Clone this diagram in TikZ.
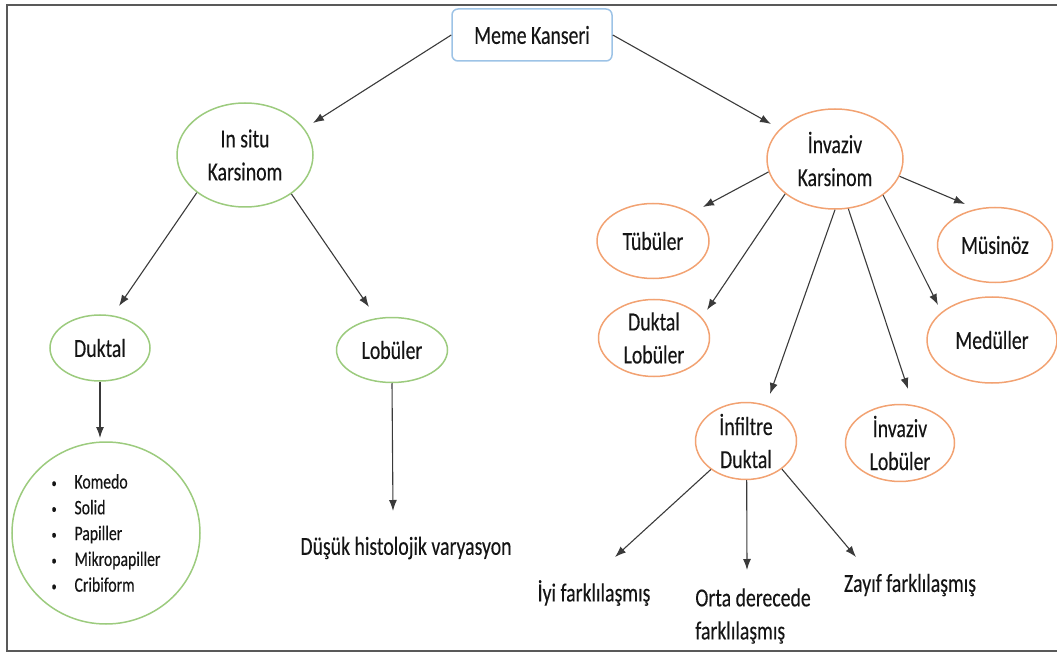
\documentclass[tikz,border=0pt]{standalone}
\usepackage{fontspec}
\setmainfont{Carlito}[FakeStretch=0.76,FakeBold=0.25]
\usetikzlibrary{shapes.geometric,arrows.meta}
\definecolor{gbord}{HTML}{9CCB7E}
\definecolor{obord}{HTML}{F2A272}
\definecolor{bbord}{HTML}{9DC3E6}
\definecolor{arrc}{HTML}{3A3A3A}
\definecolor{txt}{HTML}{151515}
\newcommand{\bl}{\makebox[23pt][l]{\raisebox{1pt}{\scalebox{0.65}{•}}}}
\begin{document}
\begin{tikzpicture}[x=1pt,y=-1pt,
  every node/.style={text=txt,font=\fontsize{26}{33}\selectfont},
  gell/.style={ellipse,draw=gbord,line width=1.5pt,inner sep=0pt,align=center},
  oell/.style={ellipse,draw=obord,line width=1.5pt,inner sep=0pt,align=center},
  plain/.style={inner sep=0pt,align=center},
  arr/.style={draw=arrc,line width=1.1pt,-{Latex[length=11pt,width=8pt]}}]
\useasboundingbox (0,0) rectangle (1057,652);
% frame
\draw[color=black!65,line width=1.5pt] (1057,5) -- (7,5) -- (7,651) -- (1057,651);
% nodes
\node[draw=bbord,line width=1.5pt,rounded corners=6pt,minimum width=160pt,minimum height=52pt,inner sep=0pt] (mk) at (532,35) {Meme Kanseri};
\node[gell,minimum width=136pt,minimum height=104pt] (isk) at (245,155) {In situ\\Karsinom};
\node[oell,minimum width=136pt,minimum height=100pt] (ivk) at (835,159) {İnvaziv\\Karsinom};
\node[gell,minimum width=100pt,minimum height=66pt] (dk) at (100,348) {Duktal};
\node[gell,minimum width=111pt,minimum height=65pt] (lb) at (392,350) {Lobüler};
\node[gell,minimum width=188pt,minimum height=182pt,align=left,font=\fontsize{20.7}{25.8}\selectfont] (lst) at (106,533)
  {\bl Komedo\\\bl Solid\\\bl Papiller\\\bl Mikropapiller\\\bl Cribiform};
\node[plain] (dh) at (406,548) {Düşük histolojik varyasyon};
\node[oell,minimum width=112pt,minimum height=75pt] (tb) at (653,241) {Tübüler};
\node[oell,minimum width=111pt,minimum height=77pt] (dl) at (654,338) {Duktal\\Lobüler};
\node[oell,minimum width=115pt,minimum height=75pt] (ms) at (995,245) {Müsinöz};
\node[oell,minimum width=130pt,minimum height=86pt] (md) at (992,340) {Medüller};
\node[oell,minimum width=101pt,minimum height=76pt] (id) at (746,441) {İnfiltre\\Duktal};
\node[oell,minimum width=109pt,minimum height=76pt] (il) at (900,443) {İnvaziv\\Lobüler};
\node[plain] (iy) at (594,593) {İyi farklılaşmış};
\node[plain,align=left] (od) at (753,616) {Orta derecede\\farklılaşmış};
\node[plain] (zy) at (910,585) {Zayıf farklılaşmış};
% arrow tips
\coordinate (t1) at (313,123);
\coordinate (t2) at (771,124);
\coordinate (t3) at (119,306);
\coordinate (t4) at (369,307);
\coordinate (t5) at (100,438);
\coordinate (t6) at (393,511);
\coordinate (t7) at (703,207);
\coordinate (t8) at (707,310);
\coordinate (t9) at (770,394);
\coordinate (t10) at (908,389);
\coordinate (t11) at (938,305);
\coordinate (t12) at (965,204);
\coordinate (t13) at (615,557);
\coordinate (t14) at (747,570);
\coordinate (t15) at (856,557);
% connectors
\draw[arr] (mk.west) -- (t1);
\draw[arr] (mk.east) -- (t2);
\draw[arr] (isk.218) -- (t3);
\draw[arr] (isk.320) -- (t4);
\draw[arr] (dk.south) -- (t5);
\draw[arr] (lb.south) -- (t6);
\draw[arr] (ivk.191) -- (t7);
\draw[arr] (ivk.215) -- (t8);
\draw[arr] (ivk.270) -- (t9);
\draw[arr] (ivk.285) -- (t10);
\draw[arr] (ivk.323) -- (t11);
\draw[arr] (ivk.345) -- (t12);
\draw[arr] (id.-89) -- (t14);
\draw[arr] (id.219) -- (t13);
\draw[arr] (id.322) -- (t15);
\end{tikzpicture}
\end{document}
